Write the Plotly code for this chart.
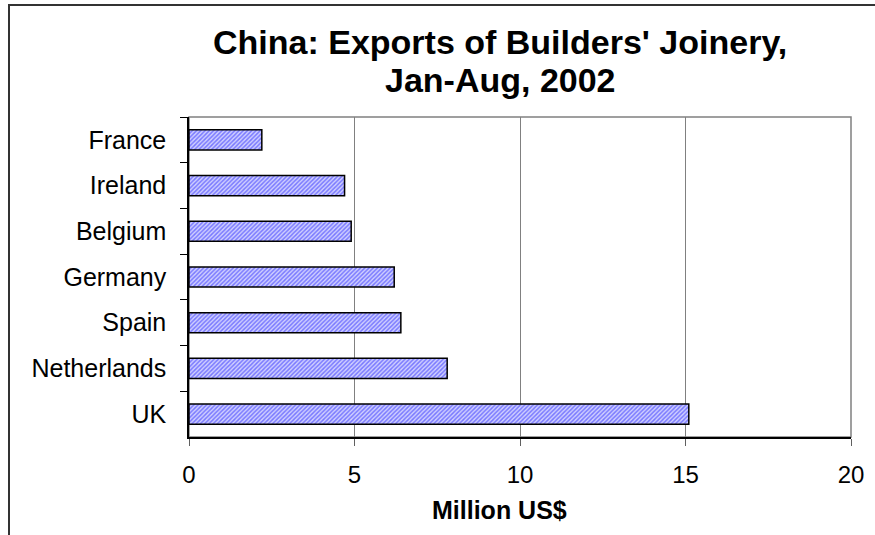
import plotly.graph_objects as go

# China's exports of builders' joinery by destination, Jan-Aug 2002
countries = ["France", "Ireland", "Belgium", "Germany", "Spain", "Netherlands", "UK"]
exports_musd = [2.2, 4.7, 4.9, 6.2, 6.4, 7.8, 15.1]
x_ticks = [0, 5, 10, 15, 20]
title_lines = ["China: Exports of Builders' Joinery,", "Jan-Aug, 2002"]
x_title = "Million US$"

W, H = 875, 535
L, R, T, B = 189, 851, 117, 437  # plot area edges in pixels

def px_x(p):
    return (p - L) / (R - L)

def px_y(p):
    return (B - p) / (B - T)

font_family = "Arial, Liberation Sans, sans-serif"

fig = go.Figure(
    go.Bar(
        x=exports_musd,
        y=countries,
        orientation="h",
        width=0.44,
        marker=dict(
            color="#8f8fff",
            line=dict(color="#000000", width=1.5),
            pattern=dict(shape="/", fgcolor="#2020ff", bgcolor="#d0d0ff",
                         size=3, solidity=0.5),
        ),
        hoverinfo="x+y",
    )
)

# title lines and x-axis title as centred text blocks
annotations = []
for text, yc in zip(title_lines, [42, 80]):
    annotations.append(dict(
        text=f"<b>{text}</b>", xref="paper", yref="paper",
        x=px_x(500), y=px_y(yc), xanchor="center", yanchor="middle",
        showarrow=False, font=dict(family=font_family, size=34, color="#000000"),
    ))
annotations.append(dict(
    text=f"<b>{x_title}</b>", xref="paper", yref="paper",
    x=px_x(499), y=px_y(510), xanchor="center", yanchor="middle",
    showarrow=False, font=dict(family=font_family, size=25, color="#000000"),
))

fig.update_layout(
    width=W,
    height=H,
    margin=dict(l=L, r=W - R, t=T, b=H - B, pad=0),
    paper_bgcolor="white",
    plot_bgcolor="white",
    showlegend=False,
    font=dict(family=font_family, color="#000000", size=24),
    annotations=annotations,
    xaxis=dict(
        range=[0, 20],
        tickvals=x_ticks,
        ticktext=[str(v) for v in x_ticks],
        showgrid=True,
        gridcolor="#808080",
        gridwidth=1,
        zeroline=False,
        showline=True,
        linecolor="#000000",
        linewidth=1.5,
        ticks="outside",
        ticklen=7,
        tickcolor="#606060",
        tickfont=dict(size=24),
        ticklabelstandoff=8,
        fixedrange=True,
    ),
    yaxis=dict(
        autorange="reversed",
        showgrid=False,
        zeroline=False,
        showline=True,
        linecolor="#000000",
        linewidth=1.5,
        ticks="outside",
        tickson="boundaries",
        ticklen=7,
        tickcolor="#000000",
        tickfont=dict(size=25),
        ticklabelstandoff=16,
        fixedrange=True,
    ),
    shapes=[
        # gray frame around the plot area
        dict(type="rect", xref="paper", yref="paper", x0=0, x1=1, y0=0, y1=1,
             line=dict(color="#808080", width=1.5), layer="below"),
        # outer chart border (continues past the right and bottom edges)
        dict(type="rect", xref="paper", yref="paper",
             x0=px_x(9), x1=px_x(W + 20), y0=px_y(H + 20), y1=px_y(5),
             line=dict(color="#333333", width=2), fillcolor="rgba(0,0,0,0)",
             layer="below"),
    ],
)

fig.write_html("out.html")
